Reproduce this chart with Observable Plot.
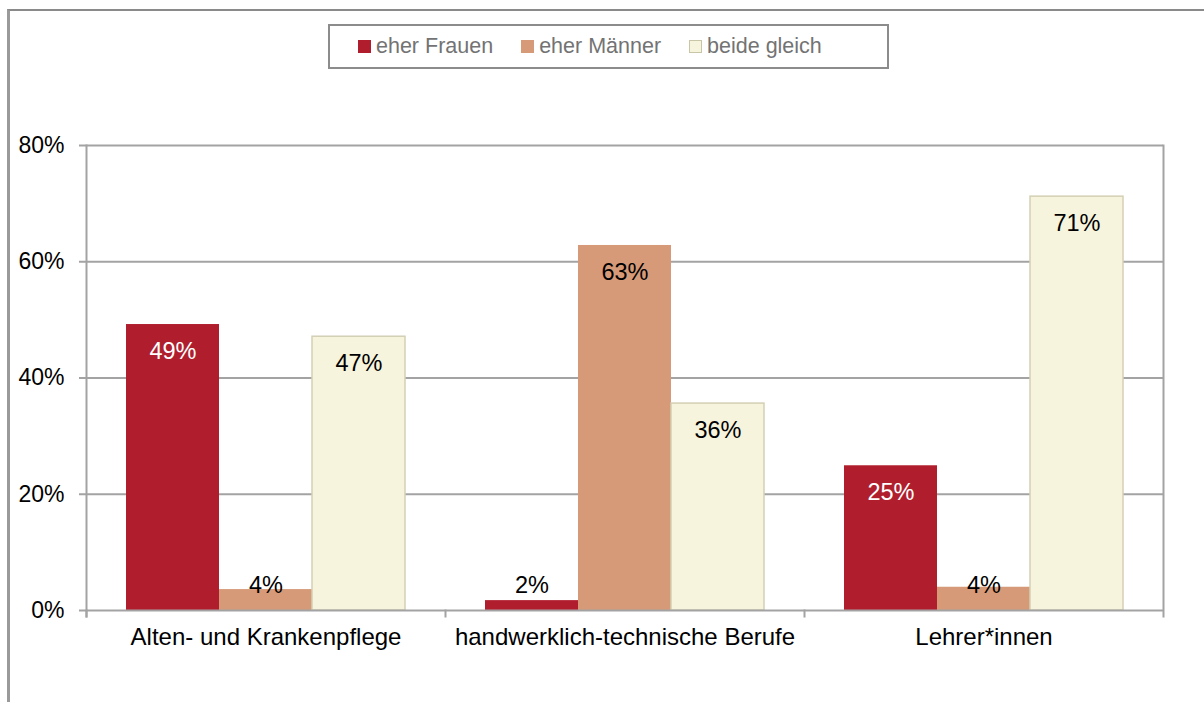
<!DOCTYPE html>
<html>
<head>
<meta charset="utf-8">
<script src="https://cdn.jsdelivr.net/npm/d3@7"></script>
<script src="https://cdn.jsdelivr.net/npm/@observablehq/plot@0.6"></script>
<style>
  html, body { margin: 0; padding: 0; background: #fff; }
  #wrap { position: relative; width: 1204px; height: 702px; overflow: hidden; font-family: "Liberation Sans", Arial, sans-serif; }
  #outer { position: absolute; left: 7px; top: 9px; width: 1200px; height: 700px; border-top: 2px solid #8a8a8a; border-left: 3px solid #9a9a9a; box-sizing: border-box; }
  #legend { position: absolute; left: 328px; top: 24px; width: 561px; height: 45px; border: 2px solid #8c8c8c; box-sizing: border-box; display: flex; align-items: center; padding-left: 28px; gap: 28px; background: #fff; }
  .item { display: flex; align-items: center; font-size: 21.5px; color: #737373; }
  .sw { width: 13px; height: 13px; margin-right: 5px; box-sizing: border-box; }
  #chart { position: absolute; left: 0; top: 0; }
</style>
</head>
<body>
<div id="wrap">
  <div id="outer"></div>
  <div id="chart"></div>
  <div id="legend"></div>
</div>
<script>
// ---- data ----
const categories = ["Alten- und Krankenpflege", "handwerklich-technische Berufe", "Lehrer*innen"];
const series = ["eher Frauen", "eher Männer", "beide gleich"];
const eherFrauen = [49.2, 1.7, 24.9];
const eherMaenner = [3.6, 62.8, 4.0];
const beideGleich = [47.1, 35.6, 71.2];
const yTicks = [0, 20, 40, 60, 80];
const colors = ["#B01E2E", "#D79A78", "#F6F4DC"];

const seriesValues = [eherFrauen, eherMaenner, beideGleich];
const data = categories.flatMap((c, i) =>
  series.map((s, j) => ({category: c, series: s, value: seriesValues[j][i]}))
);

const W = 1204, H = 702;
const mL = 85, mR = 41, mT = 145, mB = 92;
const plotH = H - mT - mB;
const grid = "#a3a3a3";
const fmt = v => Math.round(v) + "%";
const small = d => d.value < 9;

const chart = Plot.plot({
  width: W, height: H,
  marginLeft: mL, marginRight: mR, marginTop: mT, marginBottom: mB,
  style: {fontFamily: "'Liberation Sans', Arial, sans-serif", fontSize: "23px", background: "transparent", color: "#000"},
  fx: {domain: categories, padding: 0, label: null},
  x: {domain: series, paddingInner: 0, paddingOuter: 0.41, align: 0.5, axis: null},
  y: {domain: [0, 80], axis: null},
  color: {domain: series, range: colors},
  marks: [
    Plot.ruleY(yTicks.filter(t => t > 0), {stroke: grid, strokeWidth: 2}),
    Plot.barY(data, {fx: "category", x: "series", y: "value", fill: "series"}),
    Plot.barY(data.filter(d => d.series === series[2]), {fx: "category", x: "series", y: "value", fill: "none", stroke: "#d3d0b4", strokeWidth: 1.5}),
    Plot.frame({anchor: "left", facetAnchor: "left", stroke: grid, strokeWidth: 2, insetBottom: -6}),
    Plot.frame({anchor: "right", facetAnchor: "right", stroke: grid, strokeWidth: 2, insetBottom: -6}),
    Plot.frame({anchor: "left", stroke: grid, strokeWidth: 2, insetTop: plotH, insetBottom: -6}),
    Plot.ruleY([0], {stroke: grid, strokeWidth: 2}),
    Plot.axisY({ticks: yTicks, tickFormat: d => d + "%", tickSize: 7, tickPadding: 15, stroke: grid, strokeWidth: 2, fill: "#000", label: null, fontSize: 23}),
    Plot.axisFx({anchor: "bottom", tickSize: 0, tickPadding: 17, label: null, fill: "#000", fontSize: 24}),
    // labels inside end of larger bars
    Plot.text(data.filter(d => !small(d)), {fx: "category", x: "series", y: "value", text: d => fmt(d.value), dy: 27, fill: d => d.series === series[0] ? "#ffffff" : "#000000", fontSize: 23.5}),
    // labels near the base of short bars
    Plot.text(data.filter(small), {fx: "category", x: "series", y: 0, text: d => fmt(d.value), dy: -25, fill: "#000", fontSize: 23.5})
  ]
});
document.getElementById("chart").appendChild(chart);

// ---- legend ----
const legend = document.getElementById("legend");
series.forEach((s, i) => {
  const item = document.createElement("div");
  item.className = "item";
  const sw = document.createElement("span");
  sw.className = "sw";
  sw.style.background = colors[i];
  if (i === 2) sw.style.border = "1px solid #c9c6a8";
  const t = document.createElement("span");
  t.textContent = s;
  item.appendChild(sw);
  item.appendChild(t);
  legend.appendChild(item);
});
</script>
</body>
</html>
